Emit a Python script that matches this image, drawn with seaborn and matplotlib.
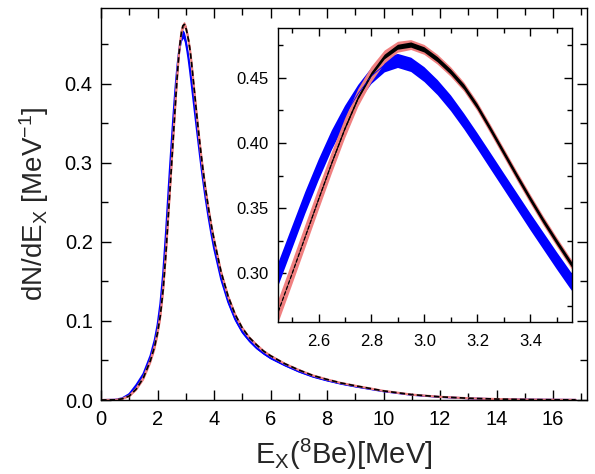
import numpy as np
import pandas as pd
import matplotlib
matplotlib.use("Agg")
import matplotlib.pyplot as plt
import seaborn as sns
from matplotlib.ticker import MultipleLocator, FormatStrFormatter

# ---------------- data ----------------
E = [0, 0.5, 0.75, 1.0, 1.25, 1.5, 1.75, 1.9, 2.0, 2.1,
     2.2, 2.3, 2.4, 2.45, 2.5, 2.55, 2.6, 2.65, 2.7, 2.75,
     2.8, 2.85, 2.9, 2.95, 3.0, 3.05, 3.1, 3.15, 3.2, 3.25,
     3.3, 3.35, 3.4, 3.45, 3.5, 3.55, 3.6, 3.7, 3.8, 3.9,
     4.0, 4.25, 4.5, 4.75, 5.0, 5.25, 5.5, 5.75, 6.0, 6.5,
     7.0, 7.5, 8.0, 8.5, 9.0, 10.0, 11.0, 12.0, 13.0, 14.0,
     15.0, 16.0, 16.8]

black = [0, 0.0002, 0.0015, 0.005, 0.014, 0.028, 0.050, 0.068, 0.085, 0.107,
         0.140, 0.187, 0.2435, 0.2715, 0.2995, 0.328, 0.3565, 0.3845, 0.411, 0.4345,
         0.4525, 0.4660, 0.4735, 0.4752, 0.4715, 0.4640, 0.4545, 0.443, 0.428, 0.4105,
         0.3925, 0.3745, 0.357, 0.340, 0.324, 0.3085, 0.294, 0.267, 0.2435, 0.222,
         0.203, 0.162, 0.131, 0.108, 0.091, 0.079, 0.070, 0.062, 0.056, 0.046,
         0.038, 0.031, 0.026, 0.0215, 0.018, 0.0115, 0.0068, 0.0040, 0.0022, 0.0012,
         0.0006, 0.0003, 0.0002]

black_hw = [0, 0, 0, 0, 0, 0, 0, 0, 0, 0,
            0.0001, 0.0002, 0.0003, 0.0004, 0.0005, 0.0006, 0.0008, 0.001, 0.0012, 0.0014,
            0.0016, 0.0018, 0.0019, 0.002, 0.002, 0.002, 0.002, 0.002, 0.002, 0.002,
            0.002, 0.002, 0.002, 0.002, 0.002, 0.002, 0.0019, 0.0018, 0.0017, 0.0016,
            0.0015, 0.0013, 0.0011, 0.001, 0.0009, 0.0008, 0.0007, 0.0007, 0.0006, 0.0005,
            0.0004, 0.0004, 0.0003, 0.0003, 0.0003, 0.0002, 0.0002, 0.0001, 0.0001, 0.0001,
            0, 0, 0]

pink_hw = [0, 0.0001, 0.0003, 0.0008, 0.0015, 0.0025, 0.0035, 0.0045, 0.005, 0.006,
           0.007, 0.008, 0.0088, 0.0088, 0.0088, 0.0087, 0.0085, 0.0082, 0.0076, 0.0068,
           0.006, 0.005, 0.0042, 0.0038, 0.0038, 0.0038, 0.0037, 0.0035, 0.0035, 0.0035,
           0.0035, 0.0035, 0.0035, 0.0035, 0.0035, 0.0035, 0.0035, 0.0034, 0.0033, 0.0033,
           0.0032, 0.0028, 0.0024, 0.0021, 0.0019, 0.0017, 0.0016, 0.0014, 0.0013, 0.0011,
           0.001, 0.0009, 0.0008, 0.0007, 0.0006, 0.0005, 0.0004, 0.0003, 0.0002, 0.0002,
           0.0002, 0.0002, 0.0002]

blue = [0, 0.0004, 0.0022, 0.0075, 0.019, 0.033, 0.056, 0.076, 0.095, 0.122,
        0.161, 0.213, 0.272, 0.300, 0.327, 0.354, 0.379, 0.402, 0.4215, 0.438,
        0.4515, 0.460, 0.4630, 0.4600, 0.4525, 0.4425, 0.4305, 0.4165, 0.4015, 0.386,
        0.3705, 0.355, 0.3395, 0.3245, 0.3095, 0.295, 0.281, 0.255, 0.232, 0.211,
        0.192, 0.153, 0.124, 0.102, 0.086, 0.075, 0.066, 0.059, 0.053, 0.044,
        0.036, 0.0295, 0.0247, 0.0205, 0.0171, 0.011, 0.0065, 0.0038, 0.0021, 0.0011,
        0.0006, 0.0003, 0.0002]

blue_hw = [0, 0.0001, 0.0003, 0.0006, 0.0012, 0.002, 0.003, 0.004, 0.005, 0.006,
           0.007, 0.008, 0.0088, 0.0089, 0.0087, 0.0084, 0.008, 0.0075, 0.007, 0.0066,
           0.0062, 0.0058, 0.0054, 0.0055, 0.0057, 0.0058, 0.006, 0.006, 0.0061, 0.0062,
           0.0062, 0.0063, 0.0064, 0.0065, 0.0066, 0.0067, 0.006, 0.0055, 0.005, 0.0045,
           0.004, 0.0035, 0.003, 0.0025, 0.002, 0.0018, 0.0015, 0.0012, 0.001, 0.0008,
           0.0006, 0.0005, 0.0005, 0.0004, 0.0004, 0.0003, 0.0003, 0.0002, 0.0002, 0.0001,
           0.0001, 0.0001, 0.0001]

main_xticks = [0, 2, 4, 6, 8, 10, 12, 14, 16]
main_yticks = [0.0, 0.1, 0.2, 0.3, 0.4]
inset_xticks = [2.6, 2.8, 3.0, 3.2, 3.4]
inset_yticks = [0.30, 0.35, 0.40, 0.45]

# ---------------- style ----------------
sns.set_style("ticks")
plt.rcParams["font.family"] = ["Liberation Sans", "DejaVu Sans"]
plt.rcParams["mathtext.fontset"] = "custom"
plt.rcParams["mathtext.rm"] = "Liberation Sans"
plt.rcParams["mathtext.it"] = "Liberation Sans:italic"
plt.rcParams["lines.scale_dashes"] = False
plt.rcParams["axes.linewidth"] = 1.0

df = pd.DataFrame({"E": E, "black": black, "black_hw": black_hw, "pink_hw": pink_hw,
                   "blue": blue, "blue_hw": blue_hw})

BLUE = "#0000ff"
PINK = "#f08080"

fig = plt.figure(figsize=(5.95, 4.74), dpi=100)
ax = fig.add_axes([101 / 595, 74 / 474, 486 / 595, 392 / 474])
ins = fig.add_axes([278 / 595, 152 / 474, 294 / 595, 294 / 474])


def draw(a, blue_lw, pink_lw, black_lw, dash):
    a.fill_between(df["E"], df["blue"] - df["blue_hw"], df["blue"] + df["blue_hw"],
                   color=BLUE, lw=0)
    if blue_lw > 0:
        sns.lineplot(data=df, x="E", y="blue", ax=a, color=BLUE, linewidth=blue_lw)
    a.fill_between(df["E"], df["black"] - df["pink_hw"], df["black"] + df["pink_hw"],
                   color=PINK, lw=0)
    if pink_lw > 0:
        sns.lineplot(data=df, x="E", y="black", ax=a, color=PINK, linewidth=pink_lw)
    a.fill_between(df["E"], df["black"] - df["black_hw"], df["black"] + df["black_hw"],
                   color="black", lw=0)
    sns.lineplot(data=df, x="E", y="black", ax=a, color="black", linewidth=black_lw)
    a.lines[-1].set_dashes(dash)


draw(ax, 1.4, 1.6, 1.2, (4, 2.2))
draw(ins, 0.6, 0.0, 0.9, (3, 1.2))

# main axes
ax.set_xlim(0, 17.2)
ax.set_ylim(0, 0.496)
ax.set_xticks(main_xticks)
ax.set_yticks(main_yticks)
ax.xaxis.set_minor_locator(MultipleLocator(1))
ax.yaxis.set_minor_locator(MultipleLocator(0.05))
ax.yaxis.set_major_formatter(FormatStrFormatter("%.1f"))
ax.tick_params(which="both", direction="in", top=True, right=True, width=1.0, colors="black")
ax.tick_params(which="major", length=7, labelsize=14.5)
ax.tick_params(which="minor", length=5)
ax.tick_params(axis="x", pad=7)
ax.tick_params(axis="y", pad=6)
ax.set_xlabel(r"E$_\mathrm{X}$($^8$Be)[MeV]", fontsize=21, labelpad=6)
ax.set_ylabel(r"dN/dE$_\mathrm{X}$ [MeV$^{-1}$]", fontsize=20, labelpad=10)
for s in ax.spines.values():
    s.set_color("black")

# inset
ins.set_xlim(2.447, 3.557)
ins.set_ylim(0.2625, 0.4883)
ins.set_xticks(inset_xticks)
ins.set_yticks(inset_yticks)
ins.xaxis.set_minor_locator(MultipleLocator(0.1))
ins.yaxis.set_minor_locator(MultipleLocator(0.025))
ins.xaxis.set_major_formatter(FormatStrFormatter("%.1f"))
ins.yaxis.set_major_formatter(FormatStrFormatter("%.2f"))
ins.tick_params(which="both", direction="in", top=True, right=True, width=1.0, colors="black")
ins.tick_params(which="major", length=5.5, labelsize=12)
ins.tick_params(which="minor", length=3.5)
ins.tick_params(axis="x", pad=8.5)
ins.tick_params(axis="y", pad=7)
ins.set_xlabel("")
ins.set_ylabel("")
ins.set_facecolor("white")
for s in ins.spines.values():
    s.set_color("black")

fig.savefig("out.png", dpi=100)
